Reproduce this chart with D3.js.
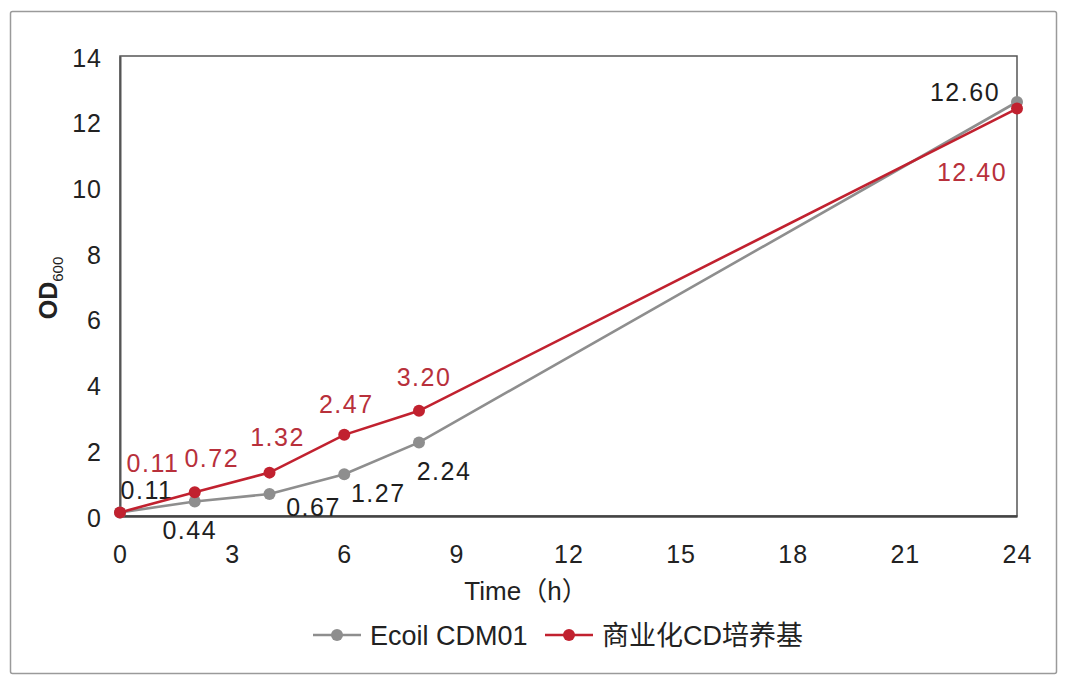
<!DOCTYPE html>
<html><head><meta charset="utf-8">
<script src="https://cdn.jsdelivr.net/npm/d3@7"></script>
<style>
html,body{margin:0;padding:0;background:#fff;}
text{font-family:"Liberation Sans",Arial,"Noto Sans CJK SC",sans-serif;}
</style></head>
<body><svg id="c" width="1080" height="683"></svg>
<script>
const hours = [0, 2, 4, 6, 8, 24];
const ecoli = [0.11, 0.44, 0.67, 1.27, 2.24, 12.60];
const commercial = [0.11, 0.72, 1.32, 2.47, 3.20, 12.40];
const seriesNames = ["Ecoil CDM01", "商业化CD培养基"];
const xTicks = [0, 3, 6, 9, 12, 15, 18, 21, 24];
const yTicks = [0, 2, 4, 6, 8, 10, 12, 14];
// label offsets (pixels) relative to each point
const ecoliLabelOff = [[27,-13],[-5,37],[44,22],[34,28],[25,38],[-52,-1]];
const commLabelOff = [[33,-40],[17,-25],[8,-27],[2,-22],[5,-25],[-45,72]];

const svg = d3.select("#c");
const L = 120, R = 1017, T = 56, B = 516;
const x = d3.scaleLinear().domain([0,24]).range([L,R]);
const y = d3.scaleLinear().domain([0,14]).range([B,T]);
const gray = "#8e8e8e", red = "#c1212f", redText = "#b8303b";

// outer frame
svg.append("rect").attr("x",10.5).attr("y",11.5).attr("width",1046).attr("height",662)
  .attr("fill","none").attr("stroke","#9a9a9a").attr("stroke-width",1.5).attr("rx",2);

// plot box
svg.append("rect").attr("x",L).attr("y",T).attr("width",R-L).attr("height",B-T)
  .attr("fill","none").attr("stroke","#555").attr("stroke-width",1.5);

// axes
const xAxis = d3.axisBottom(x).tickValues(xTicks).tickSize(0).tickPadding(29).tickFormat(d3.format("d"));
const gx = svg.append("g").attr("transform",`translate(0,${B})`).call(xAxis);
gx.select(".domain").attr("stroke","#444").attr("stroke-width",2.5);
gx.selectAll("text").attr("font-size",25).attr("fill","#222").attr("letter-spacing",1);

const yAxis = d3.axisLeft(y).tickValues(yTicks).tickSize(0).tickPadding(18).tickFormat(d3.format("d"));
const gy = svg.append("g").attr("transform",`translate(${L},0)`).call(yAxis);
gy.select(".domain").attr("stroke","#555").attr("stroke-width",2);
gy.selectAll("text").attr("font-size",25).attr("fill","#222").attr("letter-spacing",1).attr("dy","0.4em");

// axis titles
svg.append("text").attr("x",526).attr("y",600).attr("text-anchor","middle")
  .attr("font-size",26).attr("fill","#222").text("Time（h）");
const yt = svg.append("text").attr("transform","translate(57,288) rotate(-90)")
  .attr("text-anchor","middle").attr("font-size",25).attr("font-weight","bold").attr("fill","#222");
yt.append("tspan").text("OD");
yt.append("tspan").attr("font-size",15).attr("font-weight","normal").attr("dy",6).text("600");

const line = d3.line().x((d,i)=>x(hours[i])).y(d=>y(d));
function drawSeries(vals, color, txtColor, offs){
  svg.append("path").datum(vals).attr("d",line).attr("fill","none")
    .attr("stroke",color).attr("stroke-width",2.6);
  svg.selectAll(null).data(vals).enter().append("circle")
    .attr("cx",(d,i)=>x(hours[i])).attr("cy",d=>y(d)).attr("r",6).attr("fill",color);
  svg.selectAll(null).data(vals).enter().append("text")
    .attr("x",(d,i)=>x(hours[i])+offs[i][0]).attr("y",(d,i)=>y(d)+offs[i][1])
    .attr("text-anchor","middle").attr("font-size",25).attr("letter-spacing",1.5)
    .attr("fill",txtColor).text(d=>d.toFixed(2));
}
drawSeries(ecoli, gray, "#1e1e1e", ecoliLabelOff);
drawSeries(commercial, red, redText, commLabelOff);

// legend
const legend = [{name:seriesNames[0], color:gray, x0:313},{name:seriesNames[1], color:red, x0:545}];
const lg = svg.selectAll(".lg").data(legend).enter().append("g").attr("transform",d=>`translate(${d.x0},635)`);
lg.append("line").attr("x1",0).attr("x2",48).attr("stroke",d=>d.color).attr("stroke-width",2.6);
lg.append("circle").attr("cx",24).attr("r",6).attr("fill",d=>d.color);
lg.append("text").attr("x",57).attr("y",10).attr("font-size",27).attr("fill","#222").text(d=>d.name);
</script></body></html>
